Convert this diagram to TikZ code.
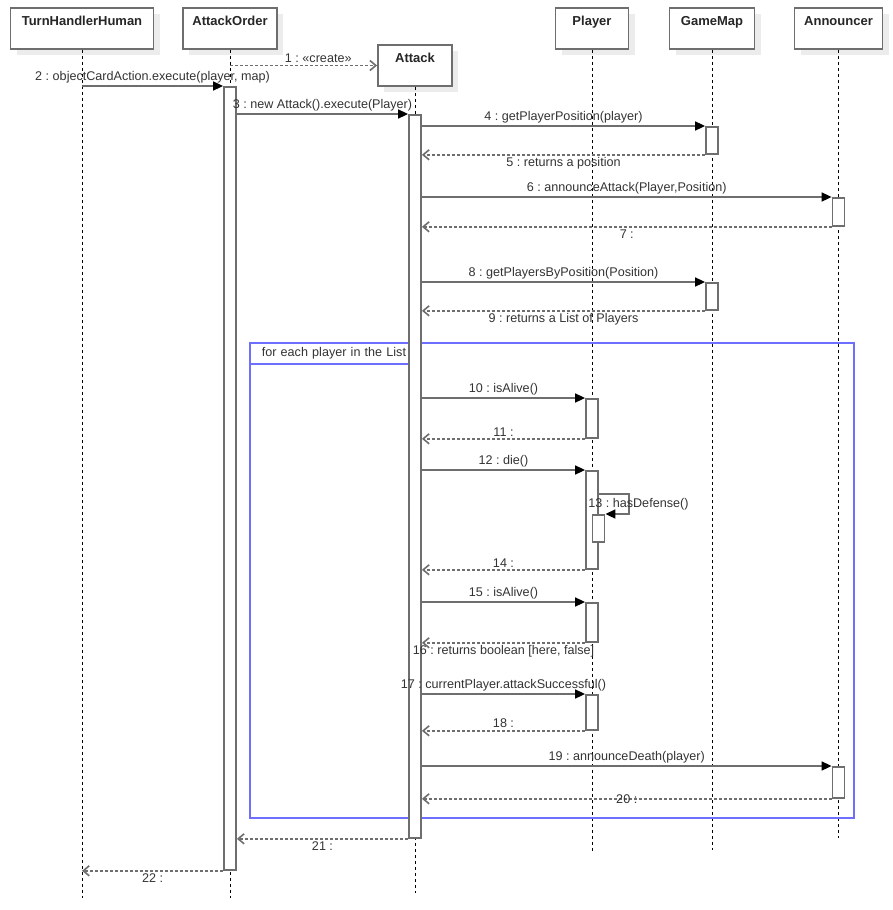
\documentclass[tikz,border=0pt]{standalone}
\usepackage{fontspec}
\setmainfont{Liberation Sans}
\usetikzlibrary{arrows.meta,shadows}
\frenchspacing
\definecolor{linegrey}{RGB}{110,110,110}
\definecolor{textgrey}{RGB}{51,51,51}
\definecolor{loopblue}{RGB}{110,110,255}
\definecolor{shadowgrey}{RGB}{236,236,236}

\begin{document}
\begin{tikzpicture}
[x=1pt, y=-1pt, font=\fontsize{12.6}{14}\selectfont, text=textgrey,
% STYLES
% The head style is used to draw the objects' boxes
head/.style={rectangle, draw=linegrey, line width=1.8pt, fill=white, drop shadow={shadow xshift=6pt, shadow yshift=-6pt, fill=shadowgrey, opacity=1}, font=\fontsize{13}{15}\selectfont\bfseries, text=black!85, minimum height=41pt, text height=9pt, text depth=15pt, inner sep=0pt},
% The bar style is used to draw the activations
bar/.style={rectangle, draw=linegrey, line width=1.8pt, fill=white, minimum width=12pt, inner sep=0pt, anchor=north},
lifeline/.style={black, line width=0.8pt, dash pattern=on 3pt off 3pt},
call/.style={draw=linegrey, line width=1.6pt, -{Triangle[length=10pt,width=9pt,color=black]}},
reply/.style={draw=linegrey, line width=1.6pt, dash pattern=on 3pt off 2pt, -{Straight Barb[length=6pt,width=10pt]}},
msg/.style={inner sep=2pt},
loopframe/.style={rectangle, draw=loopblue, line width=1.6pt, inner sep=0pt, anchor=north west},
looptag/.style={rectangle, draw=loopblue, line width=1.6pt, inner xsep=0pt, inner ysep=0pt, text width=160pt, align=left, anchor=north west}]

\useasboundingbox (0,0) rectangle (892,910);

% Draw objects
\node [head, minimum width=143pt] (thh) at (82,28.5) {TurnHandlerHuman};
\node [head, minimum width=94pt] (ao) at (230,28.5) {AttackOrder};
\node [head, minimum width=74pt] (atk) at (415,65.5) {Attack};
\node [head, minimum width=73pt] (pl) at (592,28.5) {Player};
\node [head, minimum width=85pt] (gm) at (712,28.5) {GameMap};
\node [head, minimum width=88pt] (an) at (838.5,28.5) {Announcer};

% Draw lifelines
\coordinate (thhend) at (82,898);
\coordinate (aoend) at (230,898);
\coordinate (atkend) at (415,893);
\coordinate (plend) at (592,851);
\coordinate (gmend) at (712,850);
\coordinate (anend) at (838.5,838);
\draw [lifeline] (thh) -- (thhend);
\draw [lifeline] (ao) -- (aoend);
\draw [lifeline] (atk) -- (atkend);
\draw [lifeline] (pl) -- (plend);
\draw [lifeline] (gm) -- (gmend);
\draw [lifeline] (an) -- (anend);

% Draw loop frame
\node [loopframe, minimum width=604pt, minimum height=475pt] (loop) at (249,342) {};
\node [looptag, minimum height=21pt] (looptag) at (loop.north west) {\hspace*{12pt}for each player in the List};

% Draw activations
\node [bar, minimum height=783pt] (aobar) at (230,86) {};
\node [bar, minimum height=723pt] (atkbar) at (415,114) {};
\node [bar, minimum height=27pt] (gmbar1) at (712,126) {};
\node [bar, minimum height=27pt] (gmbar2) at (712,282) {};
\node [bar, minimum height=28pt] (anbar1) at (838.5,197) {};
\node [bar, minimum height=31pt] (anbar2) at (838.5,766) {};
\node [bar, minimum height=39pt] (plbar1) at (592,398) {};
\node [bar, minimum height=98pt] (plbar2) at (592,470) {};
\node [bar, minimum height=27pt] (plnest) at (598.5,514) {};
\node [bar, minimum height=39pt] (plbar3) at (592,602) {};
\node [bar, minimum height=35pt] (plbar4) at (592,694) {};

% Draw messages
\draw [reply] (ao |- atk.west) -- node [msg, above, pos=0.6] {1 : «create»} (atk.west);
\draw [call] (thh |- aobar.north west) -- node [msg, above] {2 : objectCardAction.execute(player, map)} (aobar.north west);
\draw [call] (aobar.east |- atkbar.north west) -- node [msg, above] {3 : new Attack().execute(Player)} (atkbar.north west);
\draw [call] (atkbar.east |- gmbar1.north west) -- node [msg, above] {4 : getPlayerPosition(player)} (gmbar1.north west);
\draw [reply] (gmbar1.south west) -- node [msg, below] {5 : returns a position} (atkbar.east |- gmbar1.south west);
\draw [call] (atkbar.east |- anbar1.north west) -- node [msg, above] {6 : announceAttack(Player,Position)} (anbar1.north west);
\draw [reply] (anbar1.south west) -- node [msg, below] {7 :} (atkbar.east |- anbar1.south west);
\draw [call] (atkbar.east |- gmbar2.north west) -- node [msg, above] {8 : getPlayersByPosition(Position)} (gmbar2.north west);
\draw [reply] (gmbar2.south west) -- node [msg, below] {9 : returns a List of Players} (atkbar.east |- gmbar2.south west);
\draw [call] (atkbar.east |- plbar1.north west) -- node [msg, above] {10 : isAlive()} (plbar1.north west);
\draw [reply] (plbar1.south west) -- node [msg, above] {11 :} (atkbar.east |- plbar1.south west);
\draw [call] (atkbar.east |- plbar2.north west) -- node [msg, above] {12 : die()} (plbar2.north west);
\draw [call] ([yshift=-24pt]plbar2.north east) -- ++(30,0) |- node [msg, pos=0.25, xshift=9.5pt] {13 : hasDefense()} (plnest.north east);
\draw [reply] (plbar2.south west) -- node [msg, above] {14 :} (atkbar.east |- plbar2.south west);
\draw [call] (atkbar.east |- plbar3.north west) -- node [msg, above] {15 : isAlive()} (plbar3.north west);
\draw [reply] (plbar3.south west) -- node [msg, below] {16 : returns boolean [here, false]} (atkbar.east |- plbar3.south west);
\draw [call] (atkbar.east |- plbar4.north west) -- node [msg, above] {17 : currentPlayer.attackSuccessful()} (plbar4.north west);
\draw [reply] (plbar4.south west) -- node [msg, above] {18 :} (atkbar.east |- plbar4.south west);
\draw [call] (atkbar.east |- anbar2.north west) -- node [msg, above] {19 : announceDeath(player)} (anbar2.north west);
\draw [reply] (anbar2.south west) -- node [msg] {20 :} (atkbar.east |- anbar2.south west);
\draw [reply] (atkbar.south west) -- node [msg, below] {21 :} (aobar.east |- atkbar.south west);
\draw [reply] (aobar.south west) -- node [msg, below] {22 :} (thh |- aobar.south west);

\end{tikzpicture}
\end{document}
